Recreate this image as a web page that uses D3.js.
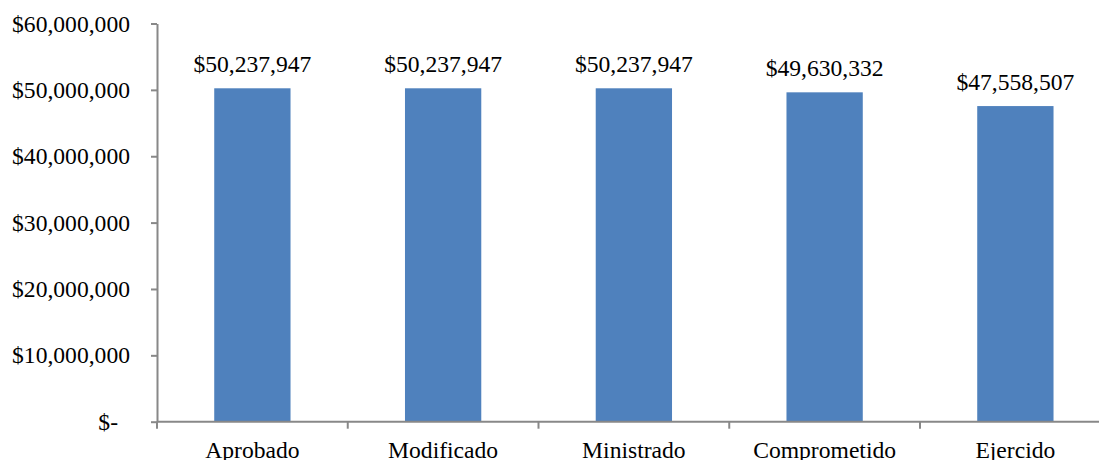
<!DOCTYPE html>
<html>
<head>
<meta charset="utf-8">
<script src="https://cdn.jsdelivr.net/npm/d3@7"></script>
<style>
  body { margin: 0; background: #fff; }
  text { font-family: "Liberation Serif", "Times New Roman", serif; fill: #000; }
  .axis path, .axis line { stroke: #888; stroke-width: 2; }
</style>
</head>
<body>
<div id="chart"></div>
<script>
// data
var categories = ["Aprobado", "Modificado", "Ministrado", "Comprometido", "Ejercido"];
var amounts = [50237947, 50237947, 50237947, 49630332, 47558507];
var yTicks = [0, 10000000, 20000000, 30000000, 40000000, 50000000, 60000000];

var data = categories.map(function(c, i) { return { cat: c, value: amounts[i] }; });

var W = 1099, H = 460;
var plotLeft = 157, plotTop = 23.5, plotBottom = 421.7;
var step = 190.75;
var fontSize = "23.6px";

var svg = d3.select("#chart").append("svg")
  .attr("width", W)
  .attr("height", H);

var x = d3.scaleBand()
  .domain(categories)
  .range([plotLeft, plotLeft + step * categories.length])
  .padding(0);

var y = d3.scaleLinear()
  .domain([0, 60000000])
  .range([plotBottom, plotTop]);

var money = d3.format(",");

// y axis
var yAxis = svg.append("g")
  .attr("class", "axis")
  .attr("transform", "translate(" + plotLeft + ",0)")
  .call(d3.axisLeft(y)
    .tickValues(yTicks)
    .tickSize(6)
    .tickSizeOuter(0)
    .tickPadding(21)
    .tickFormat(function(d) { return d === 0 ? "$-" : "$" + money(d); }));
yAxis.selectAll("text")
  .style("font-size", fontSize)
  .attr("dx", function(d) { return d === 0 ? -12 : 0; });

// bars
var barW = x.bandwidth() * 0.4;
svg.selectAll(".bar")
  .data(data)
  .enter().append("rect")
  .attr("class", "bar")
  .attr("x", function(d) { return x(d.cat) + (x.bandwidth() - barW) / 2; })
  .attr("y", function(d) { return y(d.value); })
  .attr("width", barW)
  .attr("height", function(d) { return y(0) - y(d.value); })
  .style("fill", "#4F81BD");

// x axis with ticks at category boundaries
var xAxisG = svg.append("g")
  .attr("class", "axis")
  .attr("transform", "translate(0," + plotBottom + ")");
xAxisG.append("line")
  .attr("x1", plotLeft).attr("x2", W)
  .attr("y1", 0).attr("y2", 0);
xAxisG.selectAll(".xtick")
  .data(categories)
  .enter().append("line")
  .attr("class", "xtick")
  .attr("x1", function(d) { return x(d); })
  .attr("x2", function(d) { return x(d); })
  .attr("y1", 0).attr("y2", 7);
xAxisG.selectAll(".xlabel")
  .data(categories)
  .enter().append("text")
  .attr("class", "xlabel")
  .attr("x", function(d) { return x(d) + x.bandwidth() / 2; })
  .attr("y", 36)
  .attr("text-anchor", "middle")
  .style("font-size", fontSize)
  .text(function(d) { return d; });

// value labels
svg.selectAll(".vlabel")
  .data(data)
  .enter().append("text")
  .attr("class", "vlabel")
  .attr("x", function(d) { return x(d.cat) + x.bandwidth() / 2; })
  .attr("y", function(d) { return y(d.value) - 16.5; })
  .attr("text-anchor", "middle")
  .style("font-size", fontSize)
  .text(function(d) { return "$" + money(d.value); });
</script>
</body>
</html>
